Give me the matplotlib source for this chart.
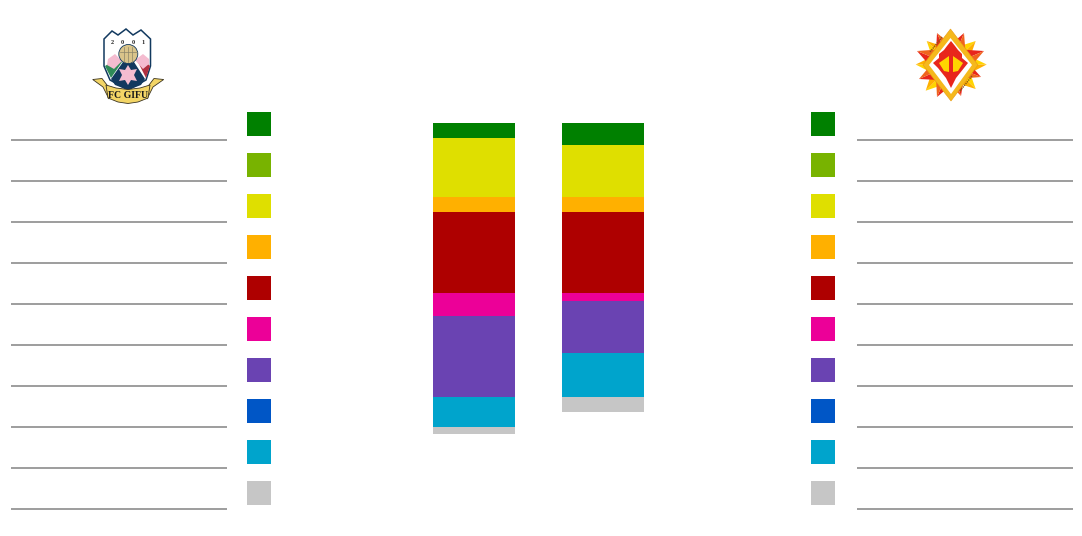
import matplotlib
matplotlib.use("Agg")
import matplotlib.pyplot as plt
from matplotlib.patches import Polygon, Rectangle, Circle

# stacked columns, top segment first
colors = ["#008000", "#78B300", "#DFDF00", "#FFB000", "#AE0000",
          "#EC0098", "#6A43B2", "#0056C6", "#00A4CC", "#C6C6C6"]
home_values = [2, 0, 8, 2, 11, 3, 11, 0, 4, 1]
away_values = [3, 0, 7, 2, 11, 1, 7, 0, 6, 2]

W, H = 1082, 536
fig = plt.figure(figsize=(W / 100, H / 100), dpi=100, facecolor="white")

# whole figure in pixels, for legend rows and crests
bg = fig.add_axes([0, 0, 1, 1])
bg.set_xlim(0, W)
bg.set_ylim(H, 0)
bg.axis("off")

# columns
top, bottom = 123, 434
left_px, right_px = 409.6, 667.6
ax = fig.add_axes([left_px / W, 1 - bottom / H, (right_px - left_px) / W, (bottom - top) / H])
ax.set_xlim(-0.5, 1.5)
ax.set_ylim(sum(home_values), 0)
ax.axis("off")
for i, vals in enumerate([home_values, away_values]):
    y = 0
    for v, c in zip(vals, colors):
        ax.bar(i, v, bottom=y, width=0.638, color=c, linewidth=0)
        y += v

# legend rows
for i, c in enumerate(colors):
    y = 112 + 41 * i
    bg.add_patch(Rectangle((247, y), 24, 24, fc=c, lw=0))
    bg.add_patch(Rectangle((811, y), 24, 24, fc=c, lw=0))
    bg.plot([11, 227], [y + 28.2, y + 28.2], color="#8C8C8C", lw=1.2, solid_capstyle="butt")
    bg.plot([857, 1073], [y + 28.2, y + 28.2], color="#8C8C8C", lw=1.2, solid_capstyle="butt")


def poly(points, **kw):
    bg.add_patch(Polygon(points, closed=True, **kw))


# left crest
navy = "#12395F"
pink = "#F4BCD0"
poly([(104, 39), (112, 31), (118, 35), (126, 29), (133, 35), (141, 30), (150.5, 39),
      (150.5, 66), (146, 80), (128, 90), (110, 80), (104, 66)],
     fc="white", ec=navy, lw=1.1, zorder=3)
poly([(105, 66), (118, 58), (122, 62), (111, 78)], fc="#2E8B57", lw=0, zorder=4)
poly([(138, 62), (142, 58), (150, 66), (146, 78)], fc="#B03040", lw=0, zorder=4)
poly([(111, 79), (123, 62), (134, 62), (145, 79), (141, 85), (128, 90), (115, 85)],
     fc=navy, lw=0, zorder=4)
poly([(108, 59), (115, 54), (122, 61), (114, 69), (107, 65)], fc=pink, lw=0, zorder=5)
poly([(135, 60), (143, 54), (149, 59), (149, 64), (143, 69)], fc=pink, lw=0, zorder=5)
poly([(128, 65), (131, 70), (137, 69), (134, 75), (137, 81), (131, 80), (128, 85),
      (125, 80), (119, 81), (122, 75), (119, 69), (125, 70)], fc=pink, lw=0, zorder=5)
bg.add_patch(Circle((128.3, 54), 9.5, fc="#D9C48A", ec=navy, lw=0.6, zorder=6))
for dx in (-4, 0, 4):
    bg.plot([128.3 + dx] * 2, [46.5, 61.5], color="#8A8468", lw=0.5, zorder=7)
bg.plot([119.5, 137], [52, 52], color="#8A8468", lw=0.5, zorder=7)
for x, s in zip([112.7, 122.7, 133, 143], "2001"):
    bg.text(x, 43, s, family="Liberation Serif", fontweight="bold", fontsize=4.5,
            color="#222222", ha="center", va="center", zorder=7)
# ribbon tails then band
poly([(92.7, 79.5), (102, 78.5), (107, 85), (109, 99), (103, 87)], fc="#F3D566", ec="#3A3320", lw=0.6, zorder=8)
poly([(163.7, 79.5), (154, 78.5), (149, 85), (147, 99), (153, 87)], fc="#F3D566", ec="#3A3320", lw=0.6, zorder=8)
poly([(106, 85), (116, 88), (128, 89.5), (140, 88), (150, 85), (148, 98), (138, 102),
      (128, 103.5), (118, 102), (108, 98)], fc="#F3D566", ec="#3A3320", lw=0.6, zorder=9)
bg.text(128, 95.5, "FC GIFU", family="Liberation Serif", fontweight="bold",
        fontsize=7, color="#1A1A1A", ha="center", va="center", zorder=10)

# right crest, spike tips around the diamond
cx, cy = 951, 65
yellow = ("#FFD400", "#FFB000")
red = ("#E8261C", "#F0641E")
spikes = [((915.7, 64.5), yellow), ((986.7, 64.5), yellow),
          ((926.7, 41), yellow), ((975.7, 41), yellow),
          ((925.7, 90.7), yellow), ((975.7, 89), yellow),
          ((917, 51), red), ((984, 51), red),
          ((919, 79), red), ((981, 77), red),
          ((937, 33), red), ((964, 33), red),
          ((937, 97), red), ((961, 96), red)]
for (tx, ty), (c1, c2) in spikes:
    dx, dy = tx - cx, ty - cy
    bx, by = cx + dx * 0.4, cy + dy * 0.4
    poly([(tx, ty), (bx, by), (bx + dy * 0.3, by - dx * 0.3)], fc=c1, lw=0, zorder=3)
    poly([(tx, ty), (bx, by), (bx - dy * 0.3, by + dx * 0.3)], fc=c2, lw=0, zorder=3)
poly([(950.5, 29), (978, 65), (951, 101), (923, 65)], fc="#F5B81C", ec="#E89A10", lw=0.4, zorder=4)
poly([(950.5, 38), (972, 65), (951, 94), (929, 65)], fc="white", lw=0, zorder=5)
# tiny lettering on the frame
bg.plot([930, 942], [52, 37], color="#8A5A10", lw=1.0, ls=(0, (1, 0.6)), zorder=6)
bg.plot([960, 972], [91, 76], color="#8A5A10", lw=1.0, ls=(0, (1, 0.6)), zorder=6)
poly([(951, 41), (955, 46), (958, 50), (962, 54), (962, 58), (968, 63), (964, 68), (960, 73),
      (956, 78), (951, 88), (946, 78), (942, 73), (938, 68), (933, 63), (939, 58),
      (939, 54), (944, 50), (947, 46)], fc="#E8261C", lw=0, zorder=6)
poly([(939, 63), (949, 56), (949, 72), (944, 71)], fc="#FFD400", lw=0, zorder=7)
poly([(963, 63), (953, 56), (953, 72), (958, 71)], fc="#FFD400", lw=0, zorder=7)

fig.savefig("out.png", dpi=100, facecolor="white")
